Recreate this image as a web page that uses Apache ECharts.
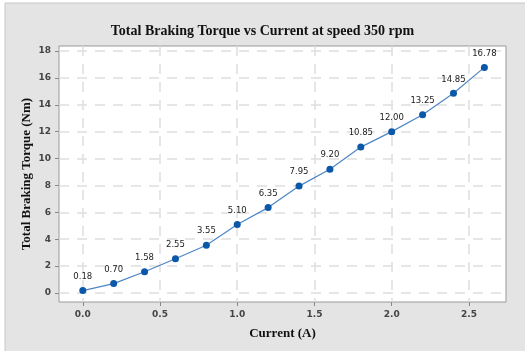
<!DOCTYPE html>
<html><head><meta charset="utf-8">
<script src="https://cdn.jsdelivr.net/npm/echarts@6/dist/echarts.min.js"></script>
<style>html,body{margin:0;padding:0;background:#fff}#c{width:525px;height:351px}</style>
</head><body><div id="c"></div>
<script>
const current = [0.0, 0.2, 0.4, 0.6, 0.8, 1.0, 1.2, 1.4, 1.6, 1.8, 2.0, 2.2, 2.4, 2.6];
const torque = [0.18, 0.70, 1.58, 2.55, 3.55, 5.10, 6.35, 7.95, 9.20, 10.85, 12.00, 13.25, 14.85, 16.78];
const xTicks = [0, 0.5, 1.0, 1.5, 2.0, 2.5];
const yTicks = [0, 2, 4, 6, 8, 10, 12, 14, 16, 18];

const chart = echarts.init(document.getElementById('c'), null, {renderer: 'canvas'});
const tickLabelStyle = {color: '#444', fontFamily: 'DejaVu Sans', fontSize: 9, fontWeight: 'bold'};
chart.setOption({
  animation: false,
  backgroundColor: '#fff',
  graphic: [{type: 'rect', z: -10, shape: {x: 5, y: 3, width: 540, height: 360}, style: {fill: '#e4e4e4', stroke: '#c6c6c6', lineWidth: 1}}],
  title: {text: 'Total Braking Torque vs Current at speed 350 rpm', left: 'center', top: 19,
    textStyle: {fontFamily: 'Liberation Serif', fontSize: 14, fontWeight: 'bold', color: '#111'}},
  grid: {left: 59, right: 19, top: 46, bottom: 49, show: true, backgroundColor: '#fff', borderColor: '#999', borderWidth: 1},
  xAxis: {type: 'value', min: -0.154, max: 2.74,
    name: 'Current (A)', nameLocation: 'middle', nameGap: 25, nameMoveOverlap: false,
    nameTextStyle: {fontFamily: 'Liberation Serif', fontSize: 13, fontWeight: 'bold', color: '#111'},
    axisLine: {show: false, onZero: false},
    axisTick: {show: true, customValues: xTicks, length: 4, lineStyle: {color: '#888'}},
    axisLabel: {customValues: xTicks, formatter: v => v.toFixed(1), margin: 8, ...tickLabelStyle},
    splitLine: {show: true, lineStyle: {color: '#dedede', type: [10, 8], width: 1.5}}
  },
  yAxis: {type: 'value', min: -0.67, max: 18.37,
    name: 'Total Braking Torque (Nm)', nameLocation: 'middle', nameGap: 26, nameMoveOverlap: false,
    nameTextStyle: {fontFamily: 'Liberation Serif', fontSize: 13, fontWeight: 'bold', color: '#111'},
    axisLine: {show: false, onZero: false},
    axisTick: {show: true, customValues: yTicks, length: 4, lineStyle: {color: '#888'}},
    axisLabel: {customValues: yTicks, margin: 8, ...tickLabelStyle},
    splitLine: {show: true, lineStyle: {color: '#dedede', type: [10, 8], width: 1.5}}
  },
  series: [{type: 'line', data: current.map((x, i) => [x, torque[i]]),
    symbol: 'circle', symbolSize: 7,
    itemStyle: {color: '#0b57a8'},
    lineStyle: {color: '#4d86c6', width: 1.2},
    label: {show: true, position: 'top', distance: 6, formatter: p => p.value[1].toFixed(2),
      fontFamily: 'DejaVu Sans', fontSize: 8.5, color: '#222'}
  }]
});
</script></body></html>
